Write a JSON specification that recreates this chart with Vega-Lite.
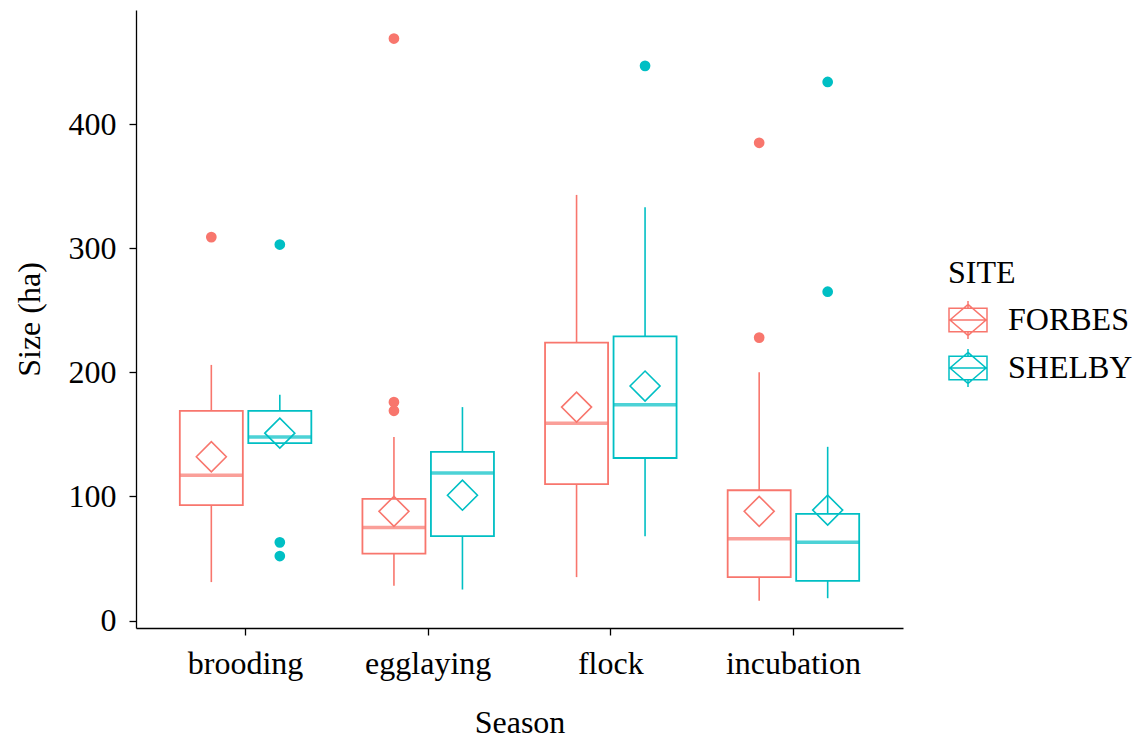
{
  "$schema": "https://vega.github.io/schema/vega-lite/v6.json",
  "autosize": "none",
  "width": 767,
  "height": 618,
  "padding": {"left": 136, "top": 10, "right": 231, "bottom": 110},
  "background": "white",
  "config": {
    "font": "Liberation Serif",
    "view": {"stroke": null},
    "axis": {"grid": false, "domainColor": "black", "domainWidth": 1.3, "tickColor": "black", "tickWidth": 1.3, "tickSize": 7, "labelColor": "black", "titleColor": "black", "labelFontSize": 32, "titleFontSize": 32, "titleFontWeight": "normal", "labelFont": "Liberation Serif", "titleFont": "Liberation Serif"}
  },
  "datasets": {
    "boxes": [
      {"Season": "brooding", "SITE": "FORBES", "lo": 31, "q1": 93, "med": 117, "q3": 169, "hi": 206, "mean": 132},
      {"Season": "brooding", "SITE": "SHELBY", "lo": 143, "q1": 143, "med": 148, "q3": 169, "hi": 182, "mean": 151},
      {"Season": "egglaying", "SITE": "FORBES", "lo": 28, "q1": 54, "med": 75, "q3": 98, "hi": 148, "mean": 88},
      {"Season": "egglaying", "SITE": "SHELBY", "lo": 25, "q1": 68, "med": 119, "q3": 136, "hi": 172, "mean": 101},
      {"Season": "flock", "SITE": "FORBES", "lo": 35, "q1": 110, "med": 159, "q3": 224, "hi": 343, "mean": 172},
      {"Season": "flock", "SITE": "SHELBY", "lo": 68, "q1": 131, "med": 174, "q3": 229, "hi": 333, "mean": 189},
      {"Season": "incubation", "SITE": "FORBES", "lo": 16, "q1": 35, "med": 66, "q3": 105, "hi": 200, "mean": 88},
      {"Season": "incubation", "SITE": "SHELBY", "lo": 18, "q1": 32, "med": 63, "q3": 86, "hi": 140, "mean": 89}
    ],
    "outliers": [
      {"Season": "brooding", "SITE": "FORBES", "Size": 309},
      {"Season": "brooding", "SITE": "SHELBY", "Size": 303},
      {"Season": "brooding", "SITE": "SHELBY", "Size": 63},
      {"Season": "brooding", "SITE": "SHELBY", "Size": 52},
      {"Season": "egglaying", "SITE": "FORBES", "Size": 469},
      {"Season": "egglaying", "SITE": "FORBES", "Size": 176},
      {"Season": "egglaying", "SITE": "FORBES", "Size": 169},
      {"Season": "flock", "SITE": "SHELBY", "Size": 447},
      {"Season": "incubation", "SITE": "FORBES", "Size": 385},
      {"Season": "incubation", "SITE": "FORBES", "Size": 228},
      {"Season": "incubation", "SITE": "SHELBY", "Size": 434},
      {"Season": "incubation", "SITE": "SHELBY", "Size": 265}
    ]
  },
  "encoding": {
    "x": {"field": "Season", "type": "nominal", "title": "Season",
      "scale": {"paddingInner": 0, "paddingOuter": 0.1},
      "axis": {"labelAngle": 0, "labelPadding": 13, "titlePadding": 28}},
    "xOffset": {"field": "SITE", "type": "nominal", "scale": {"paddingInner": 0.08, "paddingOuter": 0.373}},
    "color": {"field": "SITE", "type": "nominal", "title": "SITE",
      "scale": {"domain": ["FORBES", "SHELBY"], "range": ["#F8766D", "#00BFC4"]},
      "legend": {"orient": "none", "legendX": 812, "legendY": 248,
        "titleFontSize": 32, "titleFontWeight": "normal", "titleFont": "Liberation Serif", "titleColor": "black", "titlePadding": 10,
        "labelFontSize": 32, "labelFont": "Liberation Serif", "labelColor": "black", "labelOffset": 20,
        "symbolSize": 1444, "rowPadding": 4, "symbolStrokeWidth": 1.5, "symbolFillColor": "transparent",
        "symbolType": "M-1,-0.62H1V0.62H-1Z M-1,0H1 M0,-0.82L0.95,0L0,0.82L-0.95,0Z M0,-1V-0.62 M0,0.62V1",
        "encode": {"symbols": {"update": {"fill": {"value": "transparent"}, "fillOpacity": {"value": 0}, "strokeWidth": {"value": 1.5}}}}}}
  },
  "layer": [
    {"data": {"name": "boxes"}, "mark": {"type": "rule", "strokeWidth": 1.6},
      "encoding": {"y": {"field": "lo", "type": "quantitative", "title": "Size (ha)",
        "scale": {"domain": [-6, 492], "nice": false, "zero": false},
        "axis": {"values": [0, 100, 200, 300, 400], "labelPadding": 13, "titlePadding": 22}},
        "y2": {"field": "q1"}}},
    {"data": {"name": "boxes"}, "mark": {"type": "rule", "strokeWidth": 1.6},
      "encoding": {"y": {"field": "q3", "type": "quantitative"}, "y2": {"field": "hi"}}},
    {"data": {"name": "boxes"}, "mark": {"type": "bar", "filled": false, "strokeWidth": 1.8},
      "encoding": {"y": {"field": "q1", "type": "quantitative"}, "y2": {"field": "q3"}}},
    {"data": {"name": "boxes"}, "mark": {"type": "tick", "size": 63, "thickness": 3.5},
      "encoding": {"y": {"field": "med", "type": "quantitative"}}},
    {"data": {"name": "boxes"}, "mark": {"type": "point", "shape": "diamond", "size": 900, "filled": false, "strokeWidth": 1.6, "opacity": 1},
      "encoding": {"y": {"field": "mean", "type": "quantitative"}}},
    {"data": {"name": "outliers"}, "mark": {"type": "circle", "size": 115, "opacity": 1},
      "encoding": {"y": {"field": "Size", "type": "quantitative"}}}
  ]
}
